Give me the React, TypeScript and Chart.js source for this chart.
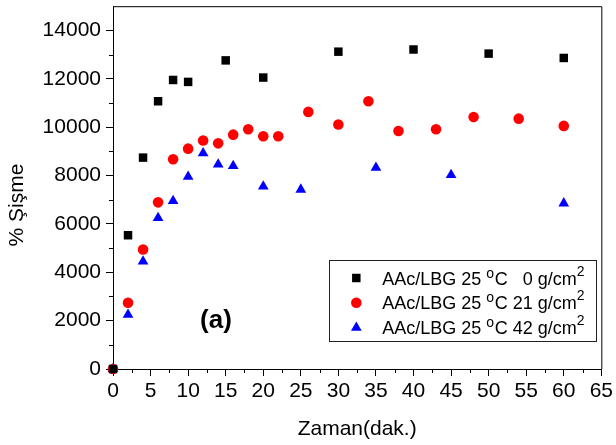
import React, { useEffect, useRef } from "react";
import { Chart, registerables } from "chart.js";

Chart.register(...registerables);

// ---- data ----
const time0 = [0, 2, 4, 6, 8, 10, 15, 20, 30, 40, 50, 60];
const swell0 = [0, 5530, 8740, 11070, 11950, 11870, 12760, 12050, 13120, 13210, 13040, 12860];

const time21 = [0, 2, 4, 6, 8, 10, 12, 14, 16, 18, 20, 22, 26, 30, 34, 38, 43, 48, 54, 60];
const swell21 = [0, 2740, 4940, 6890, 8670, 9110, 9450, 9330, 9690, 9910, 9620, 9620, 10630, 10110, 11070, 9840, 9910, 10420, 10350, 10050];

const time42 = [0, 2, 4, 6, 8, 10, 12, 14, 16, 20, 25, 35, 45, 60];
const swell42 = [0, 2250, 4450, 6250, 6950, 7950, 8920, 8460, 8400, 7550, 7420, 8320, 8020, 6850];

const xTicks = [0, 5, 10, 15, 20, 25, 30, 35, 40, 45, 50, 55, 60, 65];
const yTicks = [0, 2000, 4000, 6000, 8000, 10000, 12000, 14000];

const loads = ["0", "21", "42"];
const labelPrefix = "AAc/LBG 25 ";
const degreeSup = "o";
const degreeUnit = "C ";
const loadUnit = " g/cm";
const loadUnitSup = "2";

const xTitle = "Zaman(dak.)";
const yTitle = "% Şişme";
const panelLabel = "(a)";
const panelLabelAt = { x: 13.7, y: 2000 };

const FONT = '"Liberation Sans", Arial, Helvetica, sans-serif';

function drawMarker(ctx: CanvasRenderingContext2D, style: string, x: number, y: number, r: number, color: string) {
  ctx.save();
  ctx.fillStyle = color;
  ctx.beginPath();
  if (style === "rect") {
    const s = Math.SQRT1_2 * r;
    ctx.rect(x - s, y - s, 2 * s, 2 * s);
  } else if (style === "triangle") {
    let rad = 0;
    ctx.moveTo(x + Math.sin(rad) * r, y - Math.cos(rad) * r);
    rad += (2 * Math.PI) / 3;
    ctx.lineTo(x + Math.sin(rad) * r, y - Math.cos(rad) * r);
    rad += (2 * Math.PI) / 3;
    ctx.lineTo(x + Math.sin(rad) * r, y - Math.cos(rad) * r);
    ctx.closePath();
  } else {
    ctx.arc(x, y, r, 0, Math.PI * 2);
  }
  ctx.fill();
  ctx.restore();
}

const decorPlugin = {
  id: "decor",
  afterDraw(chart: any) {
    const { ctx, chartArea } = chart;
    const xs = chart.scales.x;
    const ys = chart.scales.y;
    ctx.save();
    // frame top & right
    ctx.strokeStyle = "#000";
    ctx.lineWidth = 1;
    ctx.beginPath();
    ctx.moveTo(chartArea.left, chartArea.top + 0.5);
    ctx.lineTo(chartArea.right + 0.5, chartArea.top + 0.5);
    ctx.lineTo(chartArea.right + 0.5, chartArea.bottom);
    ctx.stroke();

    // minor ticks (midpoints between major ticks)
    ctx.beginPath();
    const xt = xs.ticks.map((t: any) => t.value);
    for (let i = 0; i < xt.length - 1; i++) {
      const px = Math.round(xs.getPixelForValue((xt[i] + xt[i + 1]) / 2)) + 0.5;
      ctx.moveTo(px, chartArea.bottom);
      ctx.lineTo(px, chartArea.bottom + 4);
    }
    const yt = ys.ticks.map((t: any) => t.value);
    for (let i = 0; i < yt.length - 1; i++) {
      const py = Math.round(ys.getPixelForValue((yt[i] + yt[i + 1]) / 2)) + 0.5;
      ctx.moveTo(chartArea.left, py);
      ctx.lineTo(chartArea.left - 4, py);
    }
    ctx.stroke();

    // panel label
    ctx.fillStyle = "#000";
    ctx.font = `bold 26px ${FONT}`;
    ctx.textAlign = "center";
    ctx.textBaseline = "middle";
    ctx.fillText(panelLabel, xs.getPixelForValue(panelLabelAt.x), ys.getPixelForValue(panelLabelAt.y));

    // legend
    const boxW = 267;
    const boxH = 81;
    const right = chartArea.right - 5;
    const bottom = chartArea.bottom - 28;
    const left = right - boxW;
    const top = bottom - boxH;
    ctx.fillStyle = "#fff";
    ctx.fillRect(left, top, boxW, boxH);
    ctx.strokeStyle = "#222";
    ctx.strokeRect(Math.round(left) + 0.5, Math.round(top) + 0.5, boxW, boxH);

    const mainFont = `18px ${FONT}`;
    const supFont = `14px ${FONT}`;
    ctx.textBaseline = "alphabetic";
    ctx.font = mainFont;
    const maxLoadW = Math.max(...loads.map((l) => ctx.measureText(l).width));
    chart.data.datasets.forEach((ds: any, i: number) => {
      const cy = top + 18 + i * 24.8;
      drawMarker(ctx, ds.pointStyle, left + 27, cy, ds.pointRadius, ds.backgroundColor);
      const base = cy + 6.5;
      let x = left + 53;
      ctx.fillStyle = "#000";
      ctx.textAlign = "left";
      ctx.font = mainFont;
      ctx.fillText(labelPrefix, x, base);
      x += ctx.measureText(labelPrefix).width;
      ctx.font = supFont;
      ctx.fillText(degreeSup, x, base - 7);
      x += ctx.measureText(degreeSup).width + 0.5;
      ctx.font = mainFont;
      ctx.fillText(degreeUnit, x, base);
      x += ctx.measureText(degreeUnit).width;
      x += maxLoadW;
      ctx.textAlign = "right";
      ctx.fillText(loads[i], x, base);
      ctx.textAlign = "left";
      ctx.fillText(loadUnit, x, base);
      x += ctx.measureText(loadUnit).width;
      ctx.font = supFont;
      ctx.fillText(loadUnitSup, x, base - 9);
    });
    ctx.restore();
  },
};

export default function App() {
  const ref = useRef<HTMLCanvasElement | null>(null);
  useEffect(() => {
    document.body.style.margin = "0";
    const canvas = ref.current;
    if (!canvas) return;
    const mk = (xs: number[], ys: number[]) => xs.map((x, i) => ({ x, y: ys[i] }));
    const chart = new Chart(canvas, {
      type: "scatter",
      data: {
        datasets: [
          {
            label: "0",
            data: mk(time0, swell0),
            pointStyle: "rect",
            pointRadius: 6,
            backgroundColor: "#000000",
            borderWidth: 0,
            clip: false,
          } as any,
          {
            label: "21",
            data: mk(time21, swell21),
            pointStyle: "circle",
            pointRadius: 5.3,
            backgroundColor: "#ff0000",
            borderWidth: 0,
            clip: false,
          } as any,
          {
            label: "42",
            data: mk(time42, swell42),
            pointStyle: "triangle",
            pointRadius: 6.2,
            backgroundColor: "#0000ff",
            borderWidth: 0,
            clip: false,
          } as any,
        ],
      },
      options: {
        animation: false,
        responsive: false,
        devicePixelRatio: 1,
        events: [],
        layout: { padding: { top: 5, right: 13, left: 0, bottom: 0 } },
        plugins: { legend: { display: false }, tooltip: { enabled: false } },
        scales: {
          x: {
            type: "linear",
            min: 0,
            max: 65,
            afterFit: (s: any) => {
              s.height = 76;
            },
            afterBuildTicks: (s: any) => {
              s.ticks = xTicks.map((v) => ({ value: v }));
            },
            ticks: {
              color: "#000",
              padding: 3,
              font: { family: FONT, size: 21 },
              maxRotation: 0,
              autoSkip: false,
              callback: (v: any) => String(v),
            },
            grid: { drawOnChartArea: false, tickLength: 7, color: "#000", tickColor: "#000" },
            border: { color: "#000", width: 1 },
            title: {
              display: true,
              text: xTitle,
              color: "#000",
              font: { family: FONT, size: 21 },
              padding: { top: 0, bottom: 3 },
            },
          },
          y: {
            type: "linear",
            min: 0,
            max: 15000,
            afterFit: (s: any) => {
              s.width = 113;
              s.paddingTop = 0;
              s.paddingBottom = 0;
            },
            afterBuildTicks: (s: any) => {
              s.ticks = yTicks.map((v) => ({ value: v }));
            },
            ticks: {
              color: "#000",
              padding: 5,
              autoSkip: false,
              font: { family: FONT, size: 21 },
              callback: (v: any) => String(v),
            },
            grid: { drawOnChartArea: false, tickLength: 7, color: "#000", tickColor: "#000" },
            border: { color: "#000", width: 1 },
            title: {
              display: true,
              text: yTitle + "      ",
              color: "#000",
              font: { family: FONT, size: 21 },
              padding: { top: 5, bottom: 0 },
            },
          },
        },
      } as any,
      plugins: [decorPlugin],
    });
    return () => chart.destroy();
  }, []);
  return <canvas ref={ref} width={616} height={445} style={{ display: "block", width: 616, height: 445 }} />;
}
